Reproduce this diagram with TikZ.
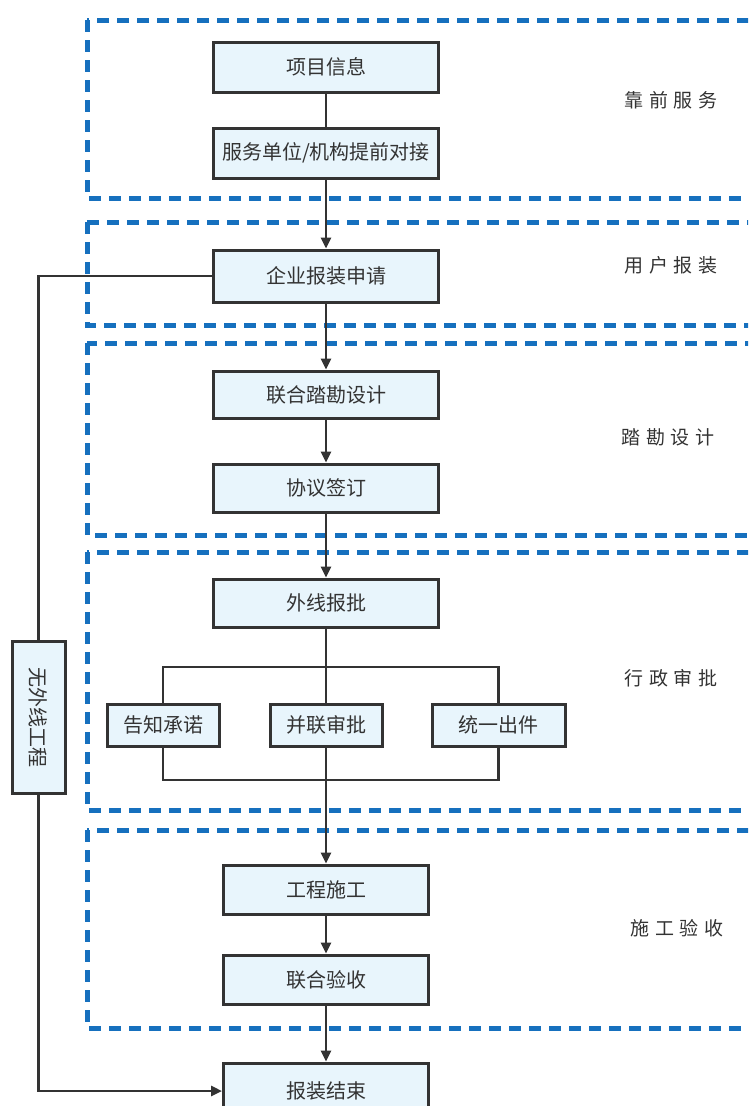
\documentclass[tikz,border=0pt]{standalone}
\usepackage{fontspec}
\usepackage{xcolor}
\usetikzlibrary{arrows.meta}
\newfontfamily\cjk{Noto Sans CJK SC}
\newfontfamily\stagecjk[LetterSpace=30]{Noto Sans CJK SC}
\definecolor{framblue}{RGB}{22,112,190}
\definecolor{boxfill}{RGB}{232,245,252}
\definecolor{inkgray}{RGB}{51,51,51}

\begin{document}
\begin{tikzpicture}[x=1pt,y=-1pt,
  every node/.append style={inner sep=0pt},
  box/.style={draw=inkgray,fill=boxfill,line width=3pt,minimum width=225pt,minimum height=50pt,font=\cjk\fontsize{20}{24}\selectfont,text=inkgray},
  smallbox/.style={box,minimum width=112pt,minimum height=42pt},
  stage/.style={font=\stagecjk\fontsize{19}{23}\selectfont,text=inkgray},
  frame/.style={draw=framblue,line width=5pt,dash pattern=on 12pt off 8pt},
  link/.style={draw=inkgray,line width=2.6pt},
  arr/.style={link,-{Triangle[length=11pt,width=10pt]}}]
\clip (0,0) rectangle (748,1106);
\useasboundingbox (0,0) rectangle (748,1106);
% stage frames
\draw [frame] (87,20) rectangle (780,198);
\draw [frame] (87,222) rectangle (780,325);
\draw [frame] (87,343) rectangle (780,535);
\draw [frame] (87,552) rectangle (780,810);
\draw [frame] (87,830) rectangle (780,1028);
\node [stage] (s1) at (671,100) {靠前服务};
\node [stage] (s2) at (671,265) {用户报装};
\node [stage] (s3) at (668,437) {踏勘设计};
\node [stage] (s4) at (671,678) {行政审批};
\node [stage] (s5) at (677,928) {施工验收};
% steps
\node [box] (xiangmu) at (326,67) {项目信息};
\node [box] (fuwu) at (326,153) {服务单位/机构提前对接};
\node [box,minimum height=52pt] (qiye) at (326,276) {企业报装申请};
\node [box,minimum height=47pt] (taken) at (326,394.5) {联合踏勘设计};
\node [box,minimum height=48pt] (xieyi) at (326,488) {协议签订};
\node [box,minimum height=48pt] (waixian) at (326,603) {外线报批};
\node [smallbox] (gaozhi) at (163,725) {告知承诺};
\node [smallbox] (binglian) at (326,725) {并联审批};
\node [smallbox,minimum width=133pt] (tongyi) at (498.5,725) {统一出件};
\node [box,minimum width=205pt,minimum height=49pt] (shigong) at (326,889.5) {工程施工};
\node [box,minimum width=205pt,minimum height=49pt] (yanshou) at (326,979.5) {联合验收};
\node [box,minimum width=205pt,minimum height=56pt] (jieshu) at (326,1091) {报装结束};
\node [box,minimum width=152pt,minimum height=53pt,rotate=-90] (wuwai) at (38.5,717) {无外线工程};
\coordinate (splitT) at (326,667);
\coordinate (joinB) at (326,780);
% connectors
\draw [link] (xiangmu) -- (fuwu);
\draw [arr] (fuwu) -- (qiye);
\draw [arr] (qiye) -- (taken);
\draw [arr] (taken) -- (xieyi);
\draw [arr] (xieyi) -- (waixian);
\draw [link] (waixian) -- (splitT);
\draw [link] (gaozhi.north) |- (splitT) -| (tongyi.north);
\draw [link] (splitT) -- (binglian);
\draw [link] (gaozhi.south) |- (joinB) -| (tongyi.south);
\draw [link] (binglian) -- (joinB);
\draw [arr] (joinB) -- (shigong);
\draw [arr] (shigong) -- (yanshou);
\draw [arr] (yanshou) -- (jieshu);
\draw [link] (qiye.west) -| (wuwai.west);
\draw [arr] (wuwai.east) |- (jieshu.west);
\end{tikzpicture}
\end{document}
